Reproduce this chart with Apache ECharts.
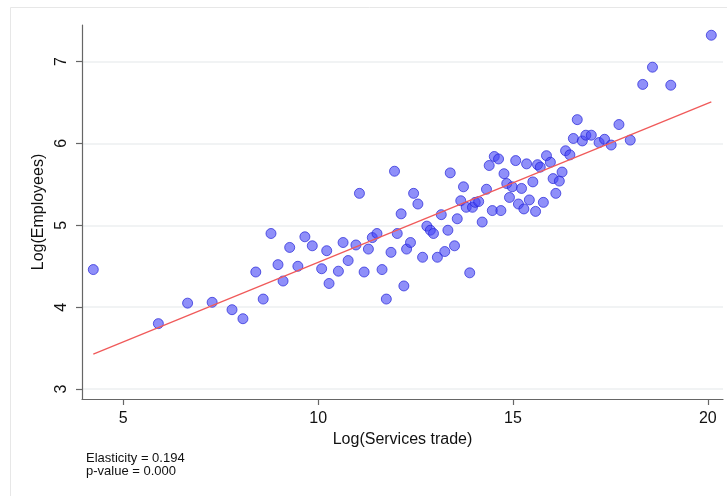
<!DOCTYPE html>
<html>
<head>
<meta charset="utf-8">
<script src="https://cdn.jsdelivr.net/npm/echarts@6/dist/echarts.min.js"></script>
<style>
  html, body { margin: 0; padding: 0; background: #ffffff; }
  #chart { width: 727px; height: 496px; }
</style>
</head>
<body>
<div id="chart"></div>
<script>
// Log(Services trade) per observation
const servicesTrade = [
  4.23, 5.90, 6.65, 7.28, 7.79, 8.07, 8.40, 8.59, 8.79, 8.97,
  9.10, 9.27, 9.48, 9.66, 9.85, 10.09, 10.22, 10.28, 10.52, 10.64,
  10.77, 10.97, 11.06, 11.18, 11.29, 11.39, 11.51, 11.64, 11.75, 11.87,
  11.96, 12.03, 12.13, 12.20, 12.27, 12.37, 12.45, 12.56, 12.68, 12.79,
  12.88, 12.96, 13.06, 13.16, 13.25, 13.33, 13.39, 13.50, 13.57, 13.66,
  13.73, 13.80, 13.89, 13.96, 14.03, 14.12, 14.21, 14.32, 14.39, 14.47,
  14.52, 14.63, 14.69, 14.77, 14.84, 14.91, 14.98, 15.07, 15.14, 15.22,
  15.28, 15.35, 15.42, 15.51, 15.58, 15.63, 15.70, 15.78, 15.86, 15.96,
  16.03, 16.10, 16.19, 16.26, 16.35, 16.46, 16.55, 16.65, 16.78, 16.87,
  17.01, 17.21, 17.35, 17.52, 17.72, 18.01, 18.33, 18.58, 19.05, 20.09
];

// Log(Employees) per observation
const employees = [
  4.46, 3.80, 4.05, 4.06, 3.97, 3.86, 4.43, 4.10, 4.90, 4.52,
  4.32, 4.73, 4.50, 4.86, 4.75, 4.47, 4.69, 4.29, 4.44, 4.79,
  4.57, 4.76, 5.39, 4.43, 4.71, 4.85, 4.90, 4.46, 4.10, 4.67,
  5.66, 4.90, 5.14, 4.26, 4.71, 4.79, 5.39, 5.26, 4.61, 4.99,
  4.94, 4.90, 4.61, 5.13, 4.68, 4.94, 5.64, 4.75, 5.08, 5.30,
  5.47, 5.22, 4.42, 5.22, 5.28, 5.29, 5.04, 5.44, 5.73, 5.18,
  5.84, 5.81, 5.18, 5.63, 5.51, 5.34, 5.47, 5.79, 5.26, 5.45,
  5.20, 5.75, 5.31, 5.53, 5.17, 5.74, 5.71, 5.28, 5.85, 5.77,
  5.57, 5.39, 5.54, 5.65, 5.91, 5.86, 6.06, 6.29, 6.03, 6.10,
  6.10, 6.01, 6.05, 5.98, 6.23, 6.04, 6.72, 6.93, 6.71, 7.32
];

const xTicks = [5, 10, 15, 20];
const yTicks = [3, 4, 5, 6, 7];

// Fitted regression: slope is the reported elasticity
const elasticity = 0.194;
const intercept = 2.608;
const pValue = '0.000';

const points = servicesTrade.map((x, i) => [x, employees[i]]);
const xMin = Math.min(...servicesTrade);
const xMax = Math.max(...servicesTrade);
const fitLine = [xMin, xMax].map(x => [x, intercept + elasticity * x]);

const FONT = '"Liberation Sans", Arial, Helvetica, sans-serif';
const axisGray = '#666666';

const chart = echarts.init(document.getElementById('chart'), null, { renderer: 'canvas' });

chart.setOption({
  backgroundColor: '#ffffff',
  animation: false,
  grid: { left: 82, right: 4, top: 25, bottom: 97, containLabel: false },
  graphic: [
    {
      type: 'rect',
      z: -10,
      silent: true,
      shape: { x: 10.5, y: 7.5, width: 800, height: 600 },
      style: { fill: 'none', stroke: '#e7e7e7', lineWidth: 1 }
    },
    {
      type: 'text',
      left: 86,
      top: 452,
      silent: true,
      style: {
        text: 'Elasticity = ' + elasticity.toFixed(3) + '\np-value = ' + pValue,
        font: '13px ' + FONT,
        lineHeight: 12.5,
        fill: '#111111'
      }
    }
  ],
  xAxis: {
    type: 'value',
    min: 3.94,
    max: 20.39,
    name: 'Log(Services trade)',
    nameLocation: 'middle',
    nameGap: 31,
    nameTextStyle: { fontFamily: FONT, fontSize: 16, color: '#111111' },
    axisLine: { show: true, onZero: false, lineStyle: { color: axisGray, width: 1.2 } },
    axisTick: { show: true, length: 6, customValues: xTicks, lineStyle: { color: axisGray, width: 1.2 } },
    axisLabel: { customValues: xTicks, margin: 12, fontFamily: FONT, fontSize: 16, color: '#111111' },
    splitLine: { show: false }
  },
  yAxis: {
    type: 'value',
    min: 2.88,
    max: 7.445,
    name: 'Log(Employees)',
    nameLocation: 'middle',
    nameGap: 34,
    nameRotate: 90,
    nameTextStyle: { fontFamily: FONT, fontSize: 16, color: '#111111' },
    axisLine: { show: true, onZero: false, lineStyle: { color: axisGray, width: 1.2 } },
    axisTick: { show: true, length: 6, customValues: yTicks, lineStyle: { color: axisGray, width: 1.2 } },
    axisLabel: { customValues: yTicks, rotate: 90, margin: 12, fontFamily: FONT, fontSize: 16, color: '#111111' },
    splitLine: { show: true, lineStyle: { color: '#eceff1', width: 1.5 } }
  },
  series: [
    {
      type: 'scatter',
      data: points,
      symbol: 'circle',
      symbolSize: 10,
      z: 3,
      itemStyle: {
        color: 'rgba(66, 66, 245, 0.74)',
        borderColor: 'rgba(36, 36, 215, 0.88)',
        borderWidth: 1
      }
    },
    {
      type: 'line',
      data: fitLine,
      symbol: 'none',
      z: 4,
      lineStyle: { color: '#f05a5a', width: 1.3 }
    }
  ]
});
</script>
</body>
</html>
